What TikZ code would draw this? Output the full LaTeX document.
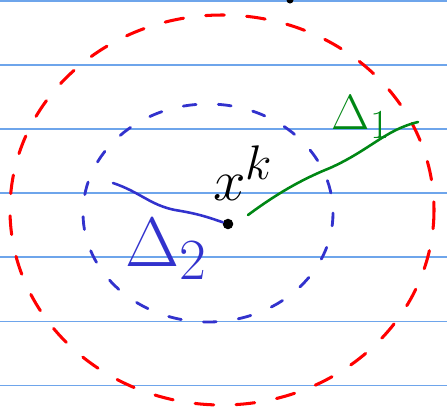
\documentclass[tikz,border=0pt]{standalone}
\begin{document}
\definecolor{rule}{RGB}{110,165,235}
\definecolor{pen}{RGB}{50,50,205}
\definecolor{leaf}{RGB}{0,135,20}
\begin{tikzpicture}[x=0.03cm,y=-0.03cm,line cap=round,line join=round]
\useasboundingbox (0,0) rectangle (447,412);
\foreach \y in {1,65,129,193,257,321.5,385.5} \draw[rule,line width=0.9pt] (0,\y) -- (447,\y);
\fill (290,0) circle (3.5);
\draw[red,line width=2.6pt,dash pattern=on 16pt off 19pt] (222,210) ellipse (212 and 195);
\draw[pen,line width=2.4pt,dash pattern=on 11pt off 19pt] (208,213) ellipse (125 and 109);
\node[circle,fill,inner sep=0pt,minimum size=9pt] (xk) at (228,224) {};
\node at (243,173) {\Huge\scalebox{2}{$x^{k}$}};
\coordinate (b0) at (113,183);
\coordinate (g0) at (418,122);
\draw[pen,line width=2.2pt] (b0) .. controls (140,192) and (150,205) .. (175,210) .. controls (200,214) and (210,218) .. (xk);
\draw[leaf,line width=2.2pt] (248,215) .. controls (275,195) and (300,180) .. (330,168) .. controls (370,150) and (385,130) .. (g0);
\node[leaf] (d1) at (361,117) {\Huge\scalebox{1.7}{$\Delta_{1}$}};
\node[pen] (d2) at (167,249) {\Huge\scalebox{2.4}{$\Delta_{2}$}};
\end{tikzpicture}
\end{document}
